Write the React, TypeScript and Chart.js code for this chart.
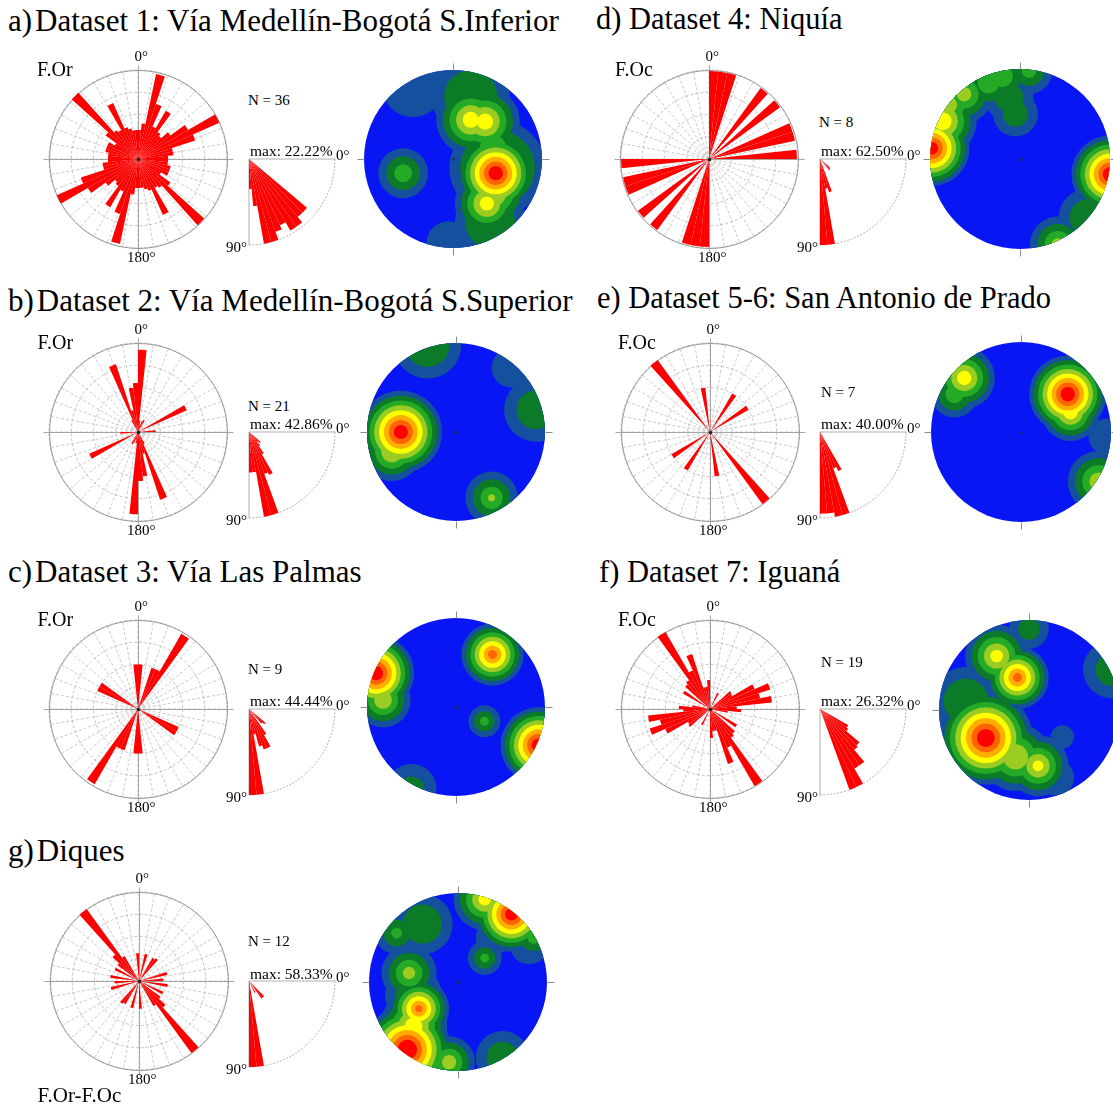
import React, { useEffect, useRef } from 'react';
import { Chart, registerables } from 'chart.js';

Chart.register(...registerables);

// ---------------- data ----------------
// Rose diagrams: bar length in grid-ring units (rings at 1,2,3,4) for 6° strike bins 0–180°.
// The 180–360° half repeats the same bins (strikes are bidirectional).
const roseA = [1.3, 1.6, 3.9, 2.6, 1.6, 2.5, 1.5, 1.4, 1.8, 2.6, 4.0, 2.7, 1.6, 1.6, 1.35, 1.35, 1.35, 1.5, 1.5, 1.5, 1.2, 1.8, 4.0, 1.6, 1.5, 2.75, 1.5, 1.4, 1.3, 1.3];
const roseB = [3.7, 0.5, 0.35, 0.5, 0.6, 0, 0, 0, 0, 0, 2.4, 0, 0, 0, 0.8, 0, 0, 0, 0, 0, 0, 0, 0, 0, 0, 0.6, 3.2, 1.0, 2.0, 2.2];
const roseC = [2.0, 0, 0, 1.95, 1.95, 3.9, 0, 0, 0, 0, 0, 0, 0, 0, 0, 0, 0, 0, 0, 2.0, 2.0, 0, 0, 0, 0, 0, 0, 0, 0, 2.0];
const roseD = [3.95, 3.95, 3.95, 0, 0, 0, 3.95, 0, 3.95, 0, 0, 3.95, 3.95, 0, 3.95, 0, 0, 0, 0, 0, 0, 0, 0, 0, 0, 0, 0, 0, 0, 0];
const roseE = [0, 0, 0, 0, 0, 2.0, 0, 0, 0, 2.0, 0, 0, 0, 0, 0, 0, 0, 0, 0, 0, 0, 0, 0, 4.0, 0, 0, 0, 0, 2.0, 0];
const roseF = [0, 0, 0, 0, 0.8, 0, 0, 0, 1.2, 1.15, 2.2, 2.85, 2.3, 2.8, 1.2, 1.4, 0.8, 0, 0, 0, 1.4, 0, 1.5, 1.6, 4.0, 1.9, 2.6, 1.0, 1.0, 1.3];
const roseG = [0, 0, 1.25, 0, 0, 1.2, 1.27, 0, 0, 0, 0, 0, 1.3, 0, 1.1, 0, 1.3, 0, 0, 1.2, 0, 1.2, 1.6, 4.0, 1.3, 0, 0, 0, 0, 1.25];

// Dip histograms: bar length relative to the max frequency, 5° dip bins from 0° (horizontal) to 90°.
const dipA = [0, 0, 0, 0, 0, 0, 0, 0, 0.88, 0.88, 0.96, 0.96, 0.85, 0.9, 1.0, 1.0, 0.55, 0.35];
const dipB = [0, 0, 0, 0, 0, 0, 0, 0, 0.18, 0.15, 0.2, 0.3, 0.55, 0.52, 1.0, 1.0, 0.47, 0.47];
const dipC = [0, 0, 0, 0, 0, 0, 0, 0, 0.25, 0.22, 0, 0.35, 0.5, 0.5, 0.45, 0.3, 1.0, 1.0];
const dipD = [0, 0, 0, 0, 0, 0, 0, 0, 0.15, 0.17, 0, 0, 0, 0, 0.4, 0.35, 1.0, 1.0];
const dipE = [0, 0, 0, 0, 0, 0, 0, 0, 0, 0, 0, 0, 0.5, 0.45, 1.0, 1.0, 0.95, 0.95];
const dipF = [0, 0, 0, 0, 0, 0, 0.38, 0.4, 0.6, 0.62, 0.8, 0.8, 1.0, 1.0, 0, 0, 0, 0];
const dipG = [0, 0, 0, 0, 0, 0, 0, 0, 0, 0.25, 0.25, 0, 0.15, 0, 0, 0, 1.0, 1.0];

// Pole density maxima on the stereonets (unit circle, x east, y north):
// lv = highest contour level reached, r0 = radius of that innermost contour, s = spacing of the outer contours.
const stereoA = [
  { x: 0.48, y: -0.16, lv: 8, r0: 0.08, s: 0.052 },
  { x: 0.45, y: -0.38, lv: 4, r0: 0.15, s: 0.08 },
  { x: 0.38, y: -0.5, lv: 5, r0: 0.08, s: 0.07 },
  { x: 0.2, y: 0.44, lv: 5, r0: 0.09, s: 0.075 },
  { x: 0.36, y: 0.42, lv: 5, r0: 0.09, s: 0.075 },
  { x: 0.45, y: 0.12, lv: 3, r0: 0.15, s: 0.1 },
  { x: 0.5, y: -0.1, lv: 2, r0: 0.42, s: 0.12 },
  { x: 0.42, y: -0.72, lv: 2, r0: 0.28, s: 0.12 },
  { x: 0.2, y: 0.7, lv: 2, r0: 0.3, s: 0.14 },
  { x: -0.45, y: 0.82, lv: 1, r0: 0.35, s: 0 },
  { x: -0.56, y: -0.16, lv: 3, r0: 0.1, s: 0.09 },
  { x: -0.05, y: -0.95, lv: 1, r0: 0.25, s: 0 },
];
const stereoB = [
  { x: -0.62, y: 0.0, lv: 8, r0: 0.08, s: 0.055 },
  { x: -0.72, y: -0.22, lv: 4, r0: 0.12, s: 0.07 },
  { x: 0.4, y: -0.74, lv: 4, r0: 0.04, s: 0.085 },
  { x: -0.32, y: 0.98, lv: 2, r0: 0.25, s: 0.13 },
  { x: 0.9, y: 0.25, lv: 2, r0: 0.22, s: 0.14 },
  { x: 0.62, y: 0.72, lv: 1, r0: 0.22, s: 0 },
];
const stereoC = [
  { x: 0.41, y: 0.59, lv: 7, r0: 0.05, s: 0.05 },
  { x: -0.9, y: 0.38, lv: 8, r0: 0.08, s: 0.05 },
  { x: -0.82, y: 0.08, lv: 4, r0: 0.1, s: 0.07 },
  { x: 0.93, y: -0.43, lv: 8, r0: 0.08, s: 0.05 },
  { x: 0.32, y: -0.16, lv: 3, r0: 0.05, s: 0.065 },
  { x: -0.5, y: -0.92, lv: 2, r0: 0.14, s: 0.14 },
];
const stereoD = [
  { x: -0.98, y: 0.12, lv: 8, r0: 0.07, s: 0.05 },
  { x: -0.86, y: 0.42, lv: 5, r0: 0.1, s: 0.07 },
  { x: -0.8, y: 0.6, lv: 4, r0: 0.1, s: 0.08 },
  { x: -0.62, y: 0.72, lv: 4, r0: 0.08, s: 0.08 },
  { x: -0.35, y: 0.85, lv: 3, r0: 0.12, s: 0.09 },
  { x: -0.2, y: 0.92, lv: 3, r0: 0.12, s: 0.09 },
  { x: 0.1, y: 0.98, lv: 3, r0: 0.08, s: 0.09 },
  { x: -0.05, y: 0.5, lv: 2, r0: 0.14, s: 0.11 },
  { x: -0.12, y: 0.68, lv: 2, r0: 0.16, s: 0.11 },
  { x: 1.0, y: -0.17, lv: 8, r0: 0.08, s: 0.05 },
  { x: 0.42, y: -0.95, lv: 4, r0: 0.07, s: 0.08 },
  { x: 0.75, y: -0.65, lv: 2, r0: 0.2, s: 0.12 },
];
const stereoE = [
  { x: 0.52, y: 0.42, lv: 8, r0: 0.08, s: 0.05 },
  { x: 0.55, y: 0.22, lv: 5, r0: 0.08, s: 0.06 },
  { x: -0.63, y: 0.6, lv: 5, r0: 0.08, s: 0.065 },
  { x: -0.74, y: 0.42, lv: 3, r0: 0.1, s: 0.08 },
  { x: 0.86, y: -0.55, lv: 4, r0: 0.1, s: 0.08 },
  { x: 0.95, y: -0.05, lv: 1, r0: 0.2, s: 0 },
];
const stereoF = [
  { x: -0.48, y: -0.31, lv: 8, r0: 0.1, s: 0.06 },
  { x: 0.1, y: -0.62, lv: 5, r0: 0.06, s: 0.07 },
  { x: -0.15, y: -0.52, lv: 4, r0: 0.14, s: 0.08 },
  { x: -0.13, y: 0.36, lv: 7, r0: 0.05, s: 0.05 },
  { x: -0.36, y: 0.6, lv: 5, r0: 0.07, s: 0.07 },
  { x: 0.92, y: 0.45, lv: 2, r0: 0.18, s: 0.14 },
  { x: 0.37, y: -0.3, lv: 1, r0: 0.13, s: 0 },
  { x: -0.7, y: 0.1, lv: 2, r0: 0.25, s: 0.13 },
  { x: 0.0, y: 0.9, lv: 2, r0: 0.12, s: 0.1 },
  { x: 0.3, y: -0.75, lv: 1, r0: 0.2, s: 0 },
];
const stereoG = [
  { x: 0.6, y: 0.76, lv: 8, r0: 0.07, s: 0.05 },
  { x: 0.3, y: 0.93, lv: 5, r0: 0.07, s: 0.07 },
  { x: 0.85, y: 0.5, lv: 3, r0: 0.07, s: 0.08 },
  { x: -0.57, y: -0.76, lv: 8, r0: 0.11, s: 0.055 },
  { x: -0.44, y: -0.3, lv: 7, r0: 0.04, s: 0.05 },
  { x: -0.5, y: -0.5, lv: 5, r0: 0.1, s: 0.07 },
  { x: -0.55, y: 0.1, lv: 4, r0: 0.07, s: 0.08 },
  { x: -0.69, y: 0.55, lv: 3, r0: 0.06, s: 0.09 },
  { x: -0.4, y: 0.65, lv: 2, r0: 0.22, s: 0.12 },
  { x: 0.3, y: 0.27, lv: 3, r0: 0.05, s: 0.07 },
  { x: 0.4, y: 0.5, lv: 1, r0: 0.2, s: 0 },
  { x: 0.5, y: -0.85, lv: 2, r0: 0.18, s: 0.12 },
  { x: -0.1, y: -0.9, lv: 4, r0: 0.08, s: 0.07 },
  { x: -0.5, y: -0.15, lv: 2, r0: 0.2, s: 0.12 },
  { x: 0.8, y: 0.42, lv: 1, r0: 0.22, s: 0 },
];

// contour fill colours: background, then levels 1..8
const LEVEL_COLORS = ['#0716F2', '#14509E', '#0B7B27', '#24AA24', '#9BCC22', '#FFFF00', '#FFAE00', '#FF6400', '#FF0000'];
const SPOKE_LABELS = ['0°', '10°', '20°', '30°', '40°', '50°', '60°', '70°', '80°', '90°', '100°', '110°', '120°', '130°', '140°', '150°', '160°', '170°', '180°', '190°', '200°', '210°', '220°', '230°', '240°', '250°', '260°', '270°', '280°', '290°', '300°', '310°', '320°', '330°', '340°', '350°'];
const DIP_AXES = ['0°', '90°', '180°', '270°'];
const DIP_BIN = 5;

const RED = '#FF0000';
const SERIF = '"Liberation Serif", "Times New Roman", Times, serif';

// ---------------- plugins ----------------
const roseFrame = {
  id: 'roseFrame',
  beforeDatasetsDraw(chart: any) {
    const r = chart.scales.r;
    const x = r.xCenter + 0.5, y = r.yCenter + 0.5, R = r.drawingArea;
    const ctx = chart.ctx;
    ctx.save();
    ctx.lineWidth = 0.9;
    ctx.strokeStyle = '#8f8f8f';
    ctx.beginPath();
    ctx.arc(x, y, R, 0, Math.PI * 2);
    ctx.stroke();
    ctx.strokeStyle = '#9c9c9c';
    ctx.beginPath();
    ctx.moveTo(x - R - 6, y);
    ctx.lineTo(x + R + 6, y);
    ctx.moveTo(x, y - R - 5);
    ctx.lineTo(x, y + R + 5);
    ctx.stroke();
    ctx.restore();
  },
  afterDatasetsDraw(chart: any) {
    const r = chart.scales.r;
    const ctx = chart.ctx;
    ctx.save();
    ctx.fillStyle = '#222';
    ctx.beginPath();
    ctx.arc(r.xCenter + 0.5, r.yCenter + 0.5, 1.7, 0, Math.PI * 2);
    ctx.fill();
    ctx.restore();
  },
};

const stereoFrame = {
  id: 'stereoFrame',
  beforeDatasetsDraw(chart: any) {
    const { x, y } = chart.scales;
    const cx = x.getPixelForValue(0), cy = y.getPixelForValue(0);
    const R = x.getPixelForValue(1) - cx;
    const ctx = chart.ctx;
    ctx.save();
    ctx.beginPath();
    ctx.arc(cx, cy, R, 0, Math.PI * 2);
    ctx.clip();
    ctx.fillStyle = LEVEL_COLORS[0];
    ctx.fillRect(cx - R - 2, cy - R - 2, 2 * R + 4, 2 * R + 4);
  },
  afterDatasetsDraw(chart: any) {
    const ctx = chart.ctx;
    ctx.restore();
    const { x, y } = chart.scales;
    const cx = Math.round(x.getPixelForValue(0)) + 0.5, cy = Math.round(y.getPixelForValue(0)) + 0.5;
    const R = x.getPixelForValue(1) - x.getPixelForValue(0);
    ctx.save();
    ctx.strokeStyle = '#8c8c8c';
    ctx.lineWidth = 1;
    ctx.beginPath();
    ctx.moveTo(cx, cy - R); ctx.lineTo(cx, cy - R - 7);
    ctx.moveTo(cx, cy + R); ctx.lineTo(cx, cy + R + 7);
    ctx.moveTo(cx - R, cy); ctx.lineTo(cx - R - 7, cy);
    ctx.moveTo(cx + R, cy); ctx.lineTo(cx + R + 7, cy);
    ctx.stroke();
    ctx.strokeStyle = '#203060';
    ctx.beginPath();
    ctx.moveTo(cx - 2, cy); ctx.lineTo(cx + 2, cy);
    ctx.moveTo(cx, cy - 2); ctx.lineTo(cx, cy + 2);
    ctx.stroke();
    ctx.restore();
  },
};

// ---------------- components ----------------
function Rose({ cx, cy, R, half }: any) {
  const ref = useRef<HTMLCanvasElement>(null);
  const PAD = 10;
  const size = 2 * (R + PAD);
  useEffect(() => {
    const chart = new Chart(ref.current as HTMLCanvasElement, {
      type: 'polarArea',
      data: {
        labels: SPOKE_LABELS,
        datasets: [{ data: [...half, ...half], backgroundColor: RED, borderWidth: 0 }],
      },
      options: {
        responsive: false,
        animation: false,
        devicePixelRatio: 1,
        events: [],
        layout: { padding: PAD, autoPadding: false },
        plugins: { legend: { display: false }, tooltip: { enabled: false } },
        scales: {
          r: {
            min: 0,
            max: 4,
            startAngle: 0,
            ticks: { display: false, stepSize: 1 },
            pointLabels: { display: false },
            grid: { color: '#b5b5b5', lineWidth: 0.8, circular: true },
            border: { dash: [3, 2] },
            angleLines: { display: true, color: '#bdbdbd', lineWidth: 0.8, borderDash: [3, 2] },
          },
        },
      } as any,
      plugins: [roseFrame as any],
    });
    return () => chart.destroy();
  }, []);
  return (
    <canvas
      ref={ref}
      width={size}
      height={size}
      style={{ position: 'absolute', left: Math.round(cx) - R - PAD, top: Math.round(cy) - R - PAD, width: size, height: size }}
    />
  );
}

function Dip({ x0, y0, R, values }: any) {
  const ref = useRef<HTMLCanvasElement>(null);
  const PAD = 3;
  const size = 2 * (R + PAD);
  useEffect(() => {
    const chart = new Chart(ref.current as HTMLCanvasElement, {
      type: 'polarArea',
      data: {
        labels: DIP_AXES,
        datasets: [{ data: values, angle: DIP_BIN, backgroundColor: RED, borderWidth: 0 } as any],
      },
      options: {
        responsive: false,
        animation: false,
        devicePixelRatio: 1,
        events: [],
        layout: { padding: PAD, autoPadding: false },
        plugins: { legend: { display: false }, tooltip: { enabled: false } },
        scales: {
          r: {
            min: 0,
            max: 1,
            startAngle: 90,
            ticks: { display: false, stepSize: 1 },
            pointLabels: { display: false },
            grid: { color: '#a6a6a6', lineWidth: 0.9, circular: true },
            border: { dash: [2, 1.5] },
            angleLines: {
              display: true,
              lineWidth: 0.9,
              color: (c: any) => (c && c.index < 2 ? '#a6a6a6' : 'rgba(0,0,0,0)'),
            },
          },
        },
      } as any,
    });
    return () => chart.destroy();
  }, []);
  const X = Math.round(x0), Y = Math.round(y0);
  return (
    <div style={{ position: 'absolute', left: X - 2, top: Y - 2, width: R + 6, height: R + 6, overflow: 'hidden' }}>
      <canvas
        ref={ref}
        width={size}
        height={size}
        style={{ position: 'absolute', left: 2 - (R + PAD), top: 2 - (R + PAD), width: size, height: size }}
      />
    </div>
  );
}

function Stereo({ cx, cy, R, peaks }: any) {
  const ref = useRef<HTMLCanvasElement>(null);
  const PAD = 10;
  const size = 2 * (R + PAD);
  useEffect(() => {
    // one unit of the x/y scales spans R pixels (chart area is 2R wide for -1..1)
    const radiusPx = (c: any) => (c && c.raw && typeof c.raw.rad === 'number' ? c.raw.rad * R : 0);
    const datasets: any[] = [];
    for (let k = 1; k <= 8; k++) {
      datasets.push({
        data: peaks.filter((p: any) => p.lv >= k).map((p: any) => ({ x: p.x, y: p.y, rad: p.r0 + p.s * (p.lv - k) })),
        backgroundColor: LEVEL_COLORS[k],
        pointBackgroundColor: LEVEL_COLORS[k],
        pointBorderWidth: 0,
        pointRadius: radiusPx,
        pointHoverRadius: radiusPx,
        pointHitRadius: 0,
        pointStyle: 'circle',
        order: 10 - k,
        clip: false,
      });
    }
    const chart = new Chart(ref.current as HTMLCanvasElement, {
      type: 'scatter',
      data: { datasets },
      options: {
        responsive: false,
        animation: false,
        devicePixelRatio: 1,
        events: [],
        layout: { padding: PAD, autoPadding: false },
        plugins: { legend: { display: false }, tooltip: { enabled: false } },
        scales: {
          x: { type: 'linear', min: -1, max: 1, display: false },
          y: { type: 'linear', min: -1, max: 1, display: false },
        },
      } as any,
      plugins: [stereoFrame as any],
    });
    return () => chart.destroy();
  }, []);
  return (
    <canvas
      ref={ref}
      width={size}
      height={size}
      style={{ position: 'absolute', left: Math.round(cx) - R - PAD, top: Math.round(cy) - R - PAD, width: size, height: size }}
    />
  );
}

function T({ x, y, size, children, align }: any) {
  const shift = align === 'center' ? 'translateX(-50%)' : align === 'right' ? 'translateX(-100%)' : 'none';
  return (
    <span
      style={{
        position: 'absolute',
        left: x,
        top: y - 0.8375 * size,
        fontFamily: SERIF,
        fontSize: size,
        lineHeight: `${size}px`,
        whiteSpace: 'nowrap',
        color: '#000',
        transform: shift,
      }}
    >
      {children}
    </span>
  );
}

const PANELS = [
  { id: 'a', letter: 'a)', title: 'Dataset 1: Vía Medellín-Bogotá S.Inferior', tight: true, tx: 8, ty: 31, ts: 31, cy: 158.5, roseX: 137.5, dipX: 249, stX: 453, stY: 158.5, stR: 89, tag: 'F.Or', tagX: 37, n: 'N = 36', nX: 248, nY: 106, max: 'max: 22.22%', rose: roseA, dip: dipA, st: stereoA },
  { id: 'b', letter: 'b)', title: 'Dataset 2: Vía Medellín-Bogotá S.Superior', tight: true, tx: 8, ty: 311, ts: 31, cy: 431.5, roseX: 137.5, dipX: 249, stX: 456, stY: 431.5, stR: 89, tag: 'F.Or', tagX: 37.5, n: 'N = 21', nX: 248, nY: 412, max: 'max: 42.86%', rose: roseB, dip: dipB, st: stereoB },
  { id: 'c', letter: 'c)', title: 'Dataset 3: Vía Las Palmas', tight: true, tx: 8, ty: 582, ts: 31, cy: 708.5, roseX: 137.5, dipX: 249, stX: 456, stY: 707, stR: 89, tag: 'F.Or', tagX: 37.5, n: 'N = 9', nX: 248, nY: 675, max: 'max: 44.44%', rose: roseC, dip: dipC, st: stereoC },
  { id: 'g', letter: 'g)', title: 'Diques', tight: true, tx: 8, ty: 861, ts: 31, cy: 981, roseX: 138.5, dipX: 249, stX: 458, stY: 981.5, stR: 89, tag: null, tagX: 0, n: 'N = 12', nX: 248, nY: 947, max: 'max: 58.33%', rose: roseG, dip: dipG, st: stereoG },
  { id: 'd', letter: 'd)', title: 'Dataset 4: Niquía', tight: false, tx: 596, ty: 30, ts: 30.5, cy: 158.5, roseX: 709, dipX: 820, stX: 1020, stY: 158.5, stR: 90, tag: 'F.Oc', tagX: 615, n: 'N = 8', nX: 819, nY: 128, max: 'max: 62.50%', rose: roseD, dip: dipD, st: stereoD },
  { id: 'e', letter: 'e)', title: 'Dataset 5-6: San Antonio de Prado', tight: false, tx: 597, ty: 309, ts: 30.5, cy: 431.5, roseX: 710, dipX: 820, stX: 1021, stY: 432, stR: 90, tag: 'F.Oc', tagX: 618, n: 'N = 7', nX: 821, nY: 398, max: 'max: 40.00%', rose: roseE, dip: dipE, st: stereoE },
  { id: 'f', letter: 'f)', title: 'Dataset 7: Iguaná', tight: false, tx: 599, ty: 583, ts: 30.5, cy: 708.5, roseX: 710, dipX: 820, stX: 1029, stY: 710, stR: 90, tag: 'F.Oc', tagX: 618, n: 'N = 19', nX: 821, nY: 668, max: 'max: 26.32%', rose: roseF, dip: dipF, st: stereoF },
];

const ROSE_R = 89;
const DIP_R = 86;

export default function App() {
  return (
    <div style={{ position: 'absolute', left: 0, top: 0, width: 1113, height: 1109, overflow: 'hidden', background: '#fff' }}>
      {PANELS.map((p) => (
        <React.Fragment key={p.id}>
          <T x={p.tx} y={p.ty} size={p.ts}>
            {p.tight ? (
              <>
                {p.letter}
                <span style={{ marginLeft: 3 }}>{p.title}</span>
              </>
            ) : (
              `${p.letter} ${p.title}`
            )}
          </T>
          <Rose cx={p.roseX} cy={p.cy} R={ROSE_R} half={p.rose} />
          <Dip x0={p.dipX} y0={p.cy} R={DIP_R} values={p.dip} />
          <Stereo cx={p.stX} cy={p.stY} R={p.stR} peaks={p.st} />
          {p.tag && (
            <T x={p.tagX} y={p.cy - 83} size={20}>
              {p.tag}
            </T>
          )}
          <T x={Math.round(p.roseX) - 3.5} y={p.cy - 97} size={15}>
            0°
          </T>
          <T x={Math.round(p.roseX) - 11} y={p.cy + 104} size={15}>
            180°
          </T>
          <T x={p.nX} y={p.nY} size={15}>
            {p.n}
          </T>
          <T x={p.dipX + 1} y={p.cy - 2.5} size={15.5}>
            {p.max}
          </T>
          <T x={p.dipX + DIP_R + 1} y={p.cy + 2} size={15}>
            0°
          </T>
          <T x={p.dipX - 2} y={p.cy + 94} size={15} align="right">
            90°
          </T>
        </React.Fragment>
      ))}
      <T x={37.5} y={1103} size={21}>
        F.Or-F.Oc
      </T>
    </div>
  );
}
